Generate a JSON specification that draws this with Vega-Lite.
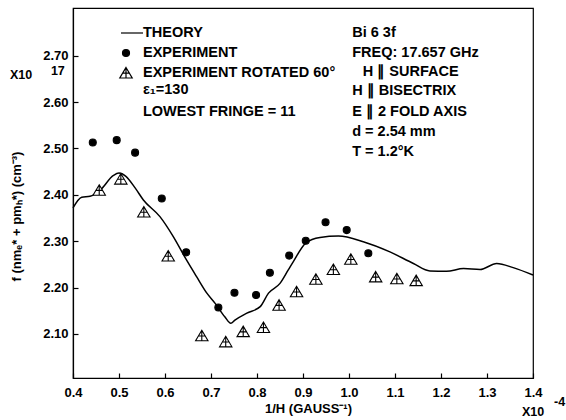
{
  "$schema": "https://vega.github.io/schema/vega-lite/v6.json",
  "width": 460,
  "height": 370,
  "autosize": {"type": "none"},
  "padding": {"left": 73, "top": 8, "right": 33, "bottom": 42},
  "background": "white",
  "config": {
    "view": {"stroke": "black", "strokeWidth": 1.2},
    "font": "Liberation Sans",
    "axis": {
      "domainColor": "black", "domainWidth": 1.2,
      "tickColor": "black", "tickWidth": 1.2, "tickSize": -5,
      "grid": false,
      "labelFont": "Liberation Sans", "labelFontWeight": "bold", "labelFontSize": 13, "labelColor": "black",
      "titleFont": "Liberation Sans", "titleFontWeight": "bold", "titleFontSize": 13, "titleColor": "black"
    },
    "legend": {
      "labelFont": "Liberation Sans", "labelFontWeight": "bold", "labelFontSize": 14.5, "labelColor": "black",
      "labelLimit": 0,
      "symbolStrokeColor": "black", "symbolStrokeWidth": 1.2
    }
  },
  "datasets": {
    "theory": [
      {"x": 0.400, "y": 2.372}, {"x": 0.419, "y": 2.395}, {"x": 0.437, "y": 2.397},
      {"x": 0.459, "y": 2.410}, {"x": 0.488, "y": 2.442}, {"x": 0.500, "y": 2.447},
      {"x": 0.515, "y": 2.440}, {"x": 0.535, "y": 2.415}, {"x": 0.553, "y": 2.389},
      {"x": 0.589, "y": 2.353}, {"x": 0.618, "y": 2.310}, {"x": 0.647, "y": 2.259},
      {"x": 0.669, "y": 2.223}, {"x": 0.691, "y": 2.188}, {"x": 0.709, "y": 2.166},
      {"x": 0.730, "y": 2.137}, {"x": 0.743, "y": 2.123}, {"x": 0.752, "y": 2.130},
      {"x": 0.778, "y": 2.145}, {"x": 0.807, "y": 2.159}, {"x": 0.825, "y": 2.188},
      {"x": 0.850, "y": 2.209}, {"x": 0.868, "y": 2.238}, {"x": 0.879, "y": 2.256},
      {"x": 0.906, "y": 2.296}, {"x": 0.937, "y": 2.308}, {"x": 0.977, "y": 2.311},
      {"x": 1.031, "y": 2.299}, {"x": 1.089, "y": 2.277}, {"x": 1.140, "y": 2.252},
      {"x": 1.176, "y": 2.236}, {"x": 1.212, "y": 2.235}, {"x": 1.249, "y": 2.241},
      {"x": 1.285, "y": 2.239}, {"x": 1.321, "y": 2.252}, {"x": 1.357, "y": 2.243},
      {"x": 1.400, "y": 2.227}
    ],
    "points": [
      {"series": "EXPERIMENT", "x": 0.443, "y": 2.513},
      {"series": "EXPERIMENT", "x": 0.495, "y": 2.518},
      {"series": "EXPERIMENT", "x": 0.535, "y": 2.491},
      {"series": "EXPERIMENT", "x": 0.593, "y": 2.392},
      {"series": "EXPERIMENT", "x": 0.646, "y": 2.276},
      {"series": "EXPERIMENT", "x": 0.716, "y": 2.157},
      {"series": "EXPERIMENT", "x": 0.751, "y": 2.189},
      {"series": "EXPERIMENT", "x": 0.798, "y": 2.184},
      {"series": "EXPERIMENT", "x": 0.828, "y": 2.232},
      {"series": "EXPERIMENT", "x": 0.870, "y": 2.269},
      {"series": "EXPERIMENT", "x": 0.906, "y": 2.301},
      {"series": "EXPERIMENT", "x": 0.949, "y": 2.341},
      {"series": "EXPERIMENT", "x": 0.995, "y": 2.324},
      {"series": "EXPERIMENT", "x": 1.042, "y": 2.274},
      {"series": "EXPERIMENT ROTATED 60°", "x": 0.457, "y": 2.410},
      {"series": "EXPERIMENT ROTATED 60°", "x": 0.504, "y": 2.434},
      {"series": "EXPERIMENT ROTATED 60°", "x": 0.554, "y": 2.363},
      {"series": "EXPERIMENT ROTATED 60°", "x": 0.607, "y": 2.268},
      {"series": "EXPERIMENT ROTATED 60°", "x": 0.680, "y": 2.096},
      {"series": "EXPERIMENT ROTATED 60°", "x": 0.732, "y": 2.083},
      {"series": "EXPERIMENT ROTATED 60°", "x": 0.770, "y": 2.105},
      {"series": "EXPERIMENT ROTATED 60°", "x": 0.814, "y": 2.114},
      {"series": "EXPERIMENT ROTATED 60°", "x": 0.848, "y": 2.162},
      {"series": "EXPERIMENT ROTATED 60°", "x": 0.886, "y": 2.191},
      {"series": "EXPERIMENT ROTATED 60°", "x": 0.928, "y": 2.218},
      {"series": "EXPERIMENT ROTATED 60°", "x": 0.966, "y": 2.239},
      {"series": "EXPERIMENT ROTATED 60°", "x": 1.004, "y": 2.261},
      {"series": "EXPERIMENT ROTATED 60°", "x": 1.058, "y": 2.223},
      {"series": "EXPERIMENT ROTATED 60°", "x": 1.104, "y": 2.219},
      {"series": "EXPERIMENT ROTATED 60°", "x": 1.146, "y": 2.215}
    ],
    "notes": [
      {"label": "ε₁=130", "x": 0.552, "y": 2.626},
      {"label": "LOWEST FRINGE = 11", "x": 0.552, "y": 2.578},
      {"label": "Bi 6  3f", "x": 1.007, "y": 2.749},
      {"label": "FREQ: 17.657 GHz", "x": 1.007, "y": 2.706},
      {"label": "H ∥ SURFACE", "x": 1.030, "y": 2.665},
      {"label": "H ∥ BISECTRIX", "x": 1.007, "y": 2.624},
      {"label": "E ∥ 2 FOLD AXIS", "x": 1.007, "y": 2.578},
      {"label": "d = 2.54 mm", "x": 1.007, "y": 2.535},
      {"label": "T = 1.2°K", "x": 1.007, "y": 2.492}
    ],
    "multipliers": [
      {"label": "X10", "x": 0.263, "y": 2.658},
      {"label": "17", "x": 0.352, "y": 2.667},
      {"label": "X10", "x": 1.376, "y": 1.932},
      {"label": "-4", "x": 1.4457, "y": 1.953}
    ]
  },
  "encoding": {
    "x": {
      "field": "x", "type": "quantitative",
      "scale": {"domain": [0.4, 1.4], "nice": false, "zero": false},
      "axis": {
        "title": "1/H (GAUSS⁻¹)",
        "values": [0.4, 0.5, 0.6, 0.7, 0.8, 0.9, 1.0, 1.1, 1.2, 1.3, 1.4],
        "format": ".1f", "labelPadding": 13, "labelFlush": false,
        "titleY": 30, "titleX": 235, "titleBaseline": "middle"
      }
    },
    "y": {
      "field": "y", "type": "quantitative",
      "scale": {"domain": [2.005, 2.803], "nice": false, "zero": false},
      "axis": {
        "title": "f (nmₑ* + pmₕ*) (cm⁻³)",
        "values": [2.1, 2.2, 2.3, 2.4, 2.5, 2.6, 2.7],
        "format": ".2f", "labelPadding": 10,
        "titleX": -57, "titleY": 208, "titleBaseline": "middle", "titleAlign": "center"
      }
    }
  },
  "layer": [
    {
      "data": {"name": "theory"},
      "mark": {"type": "line", "color": "black", "strokeWidth": 1.5, "interpolate": "monotone"}
    },
    {
      "data": {"name": "points"},
      "mark": {"type": "point", "filled": true, "size": 400, "strokeWidth": 1.1, "opacity": 1},
      "encoding": {
        "shape": {
          "field": "series", "type": "nominal",
          "scale": {
            "domain": ["THEORY", "EXPERIMENT", "EXPERIMENT ROTATED 60°"],
            "range": [
              "M-0.5,0L1.7,0",
              "M0.35,0A0.35,0.35,0,1,1,-0.35,0A0.35,0.35,0,1,1,0.35,0Z",
              "M0,-0.55L0.62,0.5L-0.62,0.5Z M0,-0.55L0,0.5 M-0.32,0.02L0.32,0.02"
            ]
          },
          "legend": {
            "title": null, "orient": "none", "legendX": 42, "legendY": 14, "padding": 0,
            "labelOffset": 6, "rowPadding": 2, "symbolSize": 400, "labelLimit": 0, "symbolStrokeWidth": 1.2
          }
        },
        "fill": {
          "field": "series", "type": "nominal",
          "scale": {
            "domain": ["THEORY", "EXPERIMENT", "EXPERIMENT ROTATED 60°"],
            "range": ["black", "black", "white"]
          },
          "legend": {
            "title": null, "orient": "none", "legendX": 42, "legendY": 14, "padding": 0,
            "labelOffset": 6, "rowPadding": 2, "symbolSize": 400, "labelLimit": 0, "symbolStrokeWidth": 1.2
          }
        },
        "stroke": {
          "field": "series", "type": "nominal",
          "scale": {
            "domain": ["THEORY", "EXPERIMENT", "EXPERIMENT ROTATED 60°"],
            "range": ["black", "black", "black"]
          },
          "legend": {
            "title": null, "orient": "none", "legendX": 42, "legendY": 14, "padding": 0,
            "labelOffset": 6, "rowPadding": 2, "symbolSize": 400, "labelLimit": 0, "symbolStrokeWidth": 1.2
          }
        }
      }
    },
    {
      "data": {"name": "notes"},
      "mark": {"type": "text", "align": "left", "baseline": "middle", "font": "Liberation Sans", "fontWeight": "bold", "fontSize": 14.5, "color": "black"},
      "encoding": {"text": {"field": "label"}}
    },
    {
      "data": {"name": "multipliers"},
      "mark": {"type": "text", "align": "left", "baseline": "middle", "font": "Liberation Sans", "fontWeight": "bold", "fontSize": 12.5, "color": "black", "clip": false},
      "encoding": {"text": {"field": "label"}}
    }
  ]
}
